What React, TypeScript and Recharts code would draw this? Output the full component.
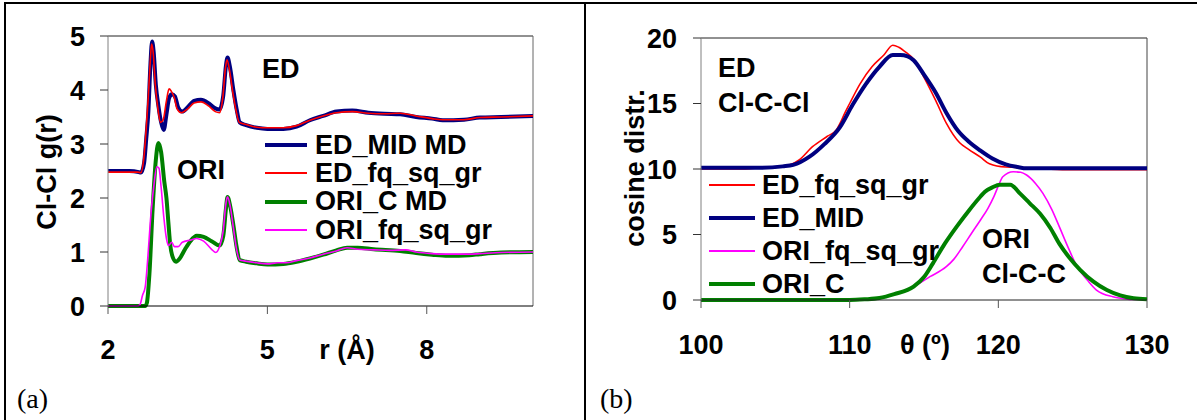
import React from "react";
import { Legend, Line, LineChart, ReferenceLine, XAxis, YAxis } from "recharts";

// (a) Cl-Cl g(r) vs r (Å) as [r, g(r)]
const edMidMd: [number, number][] = [
  [2.0, 2.5], [2.4, 2.5], [2.58, 2.48], [2.62, 2.47], [2.68, 2.65], [2.72, 3.1],
  [2.76, 3.6], [2.8, 4.5], [2.83, 4.9], [2.86, 4.7], [2.9, 4.1], [2.95, 3.7],
  [3.0, 3.4], [3.05, 3.26], [3.1, 3.55], [3.15, 3.85], [3.2, 3.92], [3.26, 3.88],
  [3.32, 3.68], [3.4, 3.6], [3.5, 3.68], [3.62, 3.8], [3.75, 3.82], [3.9, 3.75],
  [4.02, 3.66], [4.1, 3.64], [4.17, 3.9], [4.22, 4.45], [4.25, 4.6], [4.3, 4.4],
  [4.36, 4.0], [4.42, 3.65], [4.48, 3.4], [4.6, 3.35], [4.8, 3.3], [5.0, 3.28],
  [5.3, 3.28], [5.55, 3.32], [5.8, 3.44], [6.05, 3.52], [6.3, 3.6], [6.6, 3.62],
  [6.9, 3.58], [7.2, 3.56], [7.5, 3.55], [7.8, 3.5], [8.1, 3.47], [8.3, 3.44],
  [8.7, 3.45], [9.0, 3.49], [9.4, 3.5], [10.0, 3.52],
];
const edFqSqGrA: [number, number][] = [
  [2.0, 2.48], [2.55, 2.48], [2.62, 2.47], [2.67, 2.7], [2.72, 3.3], [2.76, 3.9],
  [2.8, 4.6], [2.82, 4.85], [2.85, 4.7], [2.89, 4.1], [2.94, 3.65], [2.99, 3.4],
  [3.04, 3.45], [3.1, 3.8], [3.15, 4.02], [3.19, 3.98], [3.25, 3.85], [3.3, 3.65],
  [3.38, 3.58], [3.5, 3.65], [3.62, 3.76], [3.75, 3.78], [3.9, 3.7], [4.02, 3.6],
  [4.1, 3.58], [4.16, 3.85], [4.21, 4.4], [4.24, 4.56], [4.29, 4.35], [4.35, 3.95],
  [4.41, 3.62], [4.47, 3.4], [4.6, 3.36], [4.8, 3.31], [5.0, 3.3], [5.3, 3.3],
  [5.55, 3.34], [5.8, 3.44], [6.05, 3.52], [6.3, 3.58], [6.6, 3.6], [6.9, 3.57],
  [7.2, 3.56], [7.5, 3.57], [7.8, 3.52], [8.1, 3.47], [8.3, 3.45], [8.7, 3.45],
  [9.0, 3.49], [9.4, 3.5], [10.0, 3.52],
];
const oriCMd: [number, number][] = [
  [2.0, 0], [2.6, 0], [2.7, 0], [2.73, 0.05], [2.78, 0.6], [2.84, 1.8], [2.9, 2.7],
  [2.95, 3.02], [3.0, 2.85], [3.06, 2.3], [3.1, 2.0], [3.14, 1.5], [3.17, 1.15],
  [3.22, 0.9], [3.28, 0.82], [3.35, 0.88], [3.45, 1.05], [3.55, 1.2], [3.67, 1.3],
  [3.8, 1.28], [3.95, 1.2], [4.1, 1.12], [4.17, 1.3], [4.22, 1.8], [4.25, 2.02],
  [4.3, 1.85], [4.36, 1.5], [4.42, 1.1], [4.48, 0.85], [4.6, 0.82], [4.8, 0.79],
  [5.0, 0.77], [5.3, 0.78], [5.55, 0.82], [5.8, 0.88], [6.05, 0.95], [6.3, 1.03],
  [6.5, 1.08], [6.7, 1.08], [7.0, 1.05], [7.5, 1.02], [7.8, 0.98], [8.1, 0.95],
  [8.4, 0.93], [8.8, 0.94], [9.0, 0.96], [9.4, 0.99], [10.0, 1.0],
];
const oriFqSqGrA: [number, number][] = [
  [2.0, 0], [2.55, 0], [2.6, 0.02], [2.65, 0.2], [2.7, 0.35], [2.75, 0.9], [2.8, 1.6],
  [2.86, 2.2], [2.92, 2.58], [2.96, 2.55], [3.0, 2.2], [3.05, 1.65], [3.1, 1.25],
  [3.14, 1.12], [3.2, 1.18], [3.25, 1.1], [3.32, 1.1], [3.4, 1.18], [3.55, 1.22],
  [3.67, 1.25], [3.8, 1.2], [3.95, 1.05], [4.03, 0.99], [4.1, 1.1], [4.17, 1.4],
  [4.22, 1.9], [4.25, 2.02], [4.3, 1.85], [4.36, 1.45], [4.42, 1.05], [4.48, 0.85],
  [4.6, 0.83], [4.8, 0.8], [5.0, 0.78], [5.2, 0.8], [5.35, 0.8], [5.55, 0.84],
  [5.8, 0.89], [6.05, 0.96], [6.3, 1.02], [6.5, 1.08], [6.7, 1.05], [7.0, 1.04],
  [7.3, 1.03], [7.6, 1.04], [7.8, 1.0], [8.1, 0.97], [8.4, 0.96], [8.8, 0.96],
  [9.0, 0.97], [9.4, 0.99], [10.0, 1.0],
];

// (b) cosine distribution vs angle θ (º)
const edFqSqGrB: [number, number][] = [
  [100, 10.0], [103, 10.0], [104, 10.1], [105.5, 10.2], [106.6, 10.69], [107.5, 11.7],
  [108.5, 12.5], [109.1, 12.98], [109.4, 13.6], [109.6, 14.1], [110.0, 15.0],
  [110.7, 16.5], [111.5, 17.8], [112.3, 18.7], [112.9, 19.45], [113.3, 19.3],
  [113.9, 18.8], [114.3, 18.4], [115.0, 17.0], [115.8, 15.2], [116.5, 13.5],
  [117.4, 12.0], [118.0, 11.5], [118.8, 10.9], [119.4, 10.4], [120.5, 10.15],
  [122, 10.1], [124.6, 9.95], [126, 9.95], [130, 9.95],
];
const edMid: [number, number][] = [
  [100, 10.1], [104, 10.1], [105.5, 10.2], [106.2, 10.31], [107.3, 10.94], [108.3, 11.9],
  [109.35, 13.2], [110.2, 14.9], [111.1, 16.5], [112.0, 17.8], [112.9, 18.7],
  [113.4, 18.7], [113.9, 18.6], [114.3, 18.3], [115.0, 17.2], [115.8, 15.8],
  [116.5, 14.3], [117.3, 12.9], [118.0, 12.1], [118.8, 11.4], [119.6, 10.8],
  [120.5, 10.35], [121.3, 10.15], [121.9, 10.05], [125, 10.05], [130, 10.05],
];
const oriFqSqGrB: [number, number][] = [
  [100, 0], [110, 0], [111, 0.05], [112, 0.15], [113, 0.45], [114.3, 1.02], [115.4, 1.78],
  [116.5, 2.54], [117.0, 3.1], [117.6, 4.07], [118.2, 5.1], [118.8, 6.11], [119.3, 7.0],
  [119.7, 7.89], [120.0, 8.7], [120.3, 9.41], [121.0, 9.79], [121.5, 9.75], [121.9, 9.54],
  [122.5, 8.9], [123.0, 8.14], [123.6, 6.9], [124.1, 5.6], [124.7, 4.0], [125.3, 2.54],
  [126.0, 1.5], [126.6, 0.76], [127.7, 0.25], [128.5, 0.1], [129, 0.05], [130, 0.05],
];
const oriC: [number, number][] = [
  [100, 0], [110, 0], [111, 0.05], [112, 0.15], [113, 0.45], [114.3, 1.02], [115.0, 1.75],
  [115.6, 2.8], [116.4, 4.3], [117.2, 5.6], [118, 6.8], [118.8, 7.9], [119.1, 8.27],
  [119.6, 8.6], [120.1, 8.8], [120.8, 8.8], [121.45, 8.14], [122.1, 7.4], [122.8, 6.6],
  [123.5, 5.5], [124.1, 4.3], [124.8, 3.2], [125.5, 2.3], [126.4, 1.4], [127.3, 0.76],
  [128.2, 0.35], [129.1, 0.13], [130, 0.05],
];

const ticksRA = [2, 5, 8];
const ticksGA = [0, 1, 2, 3, 4, 5];
const ticksThetaB = [100, 110, 120, 130];
const ticksCosB = [0, 5, 10, 15, 20];

const FONT = '"Liberation Sans", Arial, Helvetica, sans-serif';
const tickStyle = { fill: "#000", fontSize: 27, fontWeight: 700, fontFamily: FONT };

const toPts = (arr: [number, number][]) => arr.map(([x, y]) => ({ x, y }));

type Item = { name: string; color: string; width: number };

function legendContent(items: Item[], rowH: number, lineLen: number, gap: number) {
  return () => (
    <div>
      {items.map((it) => (
        <div key={it.name} style={{ display: "flex", alignItems: "center", height: rowH }}>
          <svg width={lineLen} height={10} style={{ display: "block" }}>
            <line x1={0} y1={5} x2={lineLen} y2={5} stroke={it.color} strokeWidth={it.width} />
          </svg>
          <span
            style={{
              marginLeft: gap,
              fontFamily: FONT,
              fontWeight: 700,
              fontSize: 27,
              lineHeight: 1,
              whiteSpace: "nowrap",
              color: "#000",
            }}
          >
            {it.name}
          </span>
        </div>
      ))}
    </div>
  );
}

function Txt(props: {
  x: number;
  y: number;
  children: React.ReactNode;
  center?: boolean;
  rotate?: boolean;
  serif?: boolean;
}) {
  const { x, y, children, center, rotate, serif } = props;
  let transform = "translate(0,-50%)";
  if (center) transform = "translate(-50%,-50%)";
  if (rotate) transform = "translate(-50%,-50%) rotate(-90deg)";
  return (
    <div
      style={{
        position: "absolute",
        left: x,
        top: y,
        transform,
        fontFamily: serif ? '"Liberation Serif", "Times New Roman", serif' : FONT,
        fontWeight: serif ? 400 : 700,
        fontSize: serif ? 28 : 27,
        lineHeight: 1,
        whiteSpace: "nowrap",
        color: "#000",
      }}
    >
      {children}
    </div>
  );
}

const legendA: Item[] = [
  { name: "ED_MID MD", color: "#000080", width: 4 },
  { name: "ED_fq_sq_gr", color: "#ff0000", width: 2 },
  { name: "ORI_C MD", color: "#008000", width: 4 },
  { name: "ORI_fq_sq_gr", color: "#ff00ff", width: 2 },
];
const legendB: Item[] = [
  { name: "ED_fq_sq_gr", color: "#ff0000", width: 2 },
  { name: "ED_MID", color: "#000080", width: 4 },
  { name: "ORI_fq_sq_gr", color: "#ff00ff", width: 2 },
  { name: "ORI_C", color: "#008000", width: 4 },
];

export default function App() {
  return (
    <div
      style={{
        position: "absolute",
        left: 0,
        top: 0,
        width: 1197,
        height: 420,
        background: "#fff",
        overflow: "hidden",
      }}
    >
      {/* table borders */}
      <div style={{ position: "absolute", left: 4, top: 2, width: 1193, height: 2, background: "#000" }} />
      <div style={{ position: "absolute", left: 4, top: 2, width: 2, height: 418, background: "#000" }} />
      <div style={{ position: "absolute", left: 584, top: 2, width: 2, height: 418, background: "#000" }} />

      {/* panel (a) */}
      <div style={{ position: "absolute", left: 0, top: 0 }}>
        <LineChart width={585} height={420} margin={{ top: 36, right: 52, bottom: 44, left: 0 }}>
          <XAxis
            dataKey="x"
            type="number"
            domain={[2, 10]}
            ticks={ticksRA}
            interval={0}
            allowDataOverflow
            height={70}
            tickSize={8}
            tickMargin={26}
            tick={tickStyle}
            axisLine={{ stroke: "#000" }}
            tickLine={{ stroke: "#555" }}
          />
          <YAxis
            type="number"
            domain={[0, 5]}
            ticks={ticksGA}
            interval={0}
            width={108}
            tickSize={8}
            tickMargin={15}
            tick={tickStyle}
            axisLine={{ stroke: "#808080" }}
            tickLine={{ stroke: "#333" }}
          />
          <ReferenceLine y={5} stroke="#222" />
          <ReferenceLine x={10} stroke="#666" />
          <Line data={toPts(edMidMd)} dataKey="y" name="ED_MID MD" type="monotone" stroke="#000080" strokeWidth={4} dot={false} isAnimationActive={false} />
          <Line data={toPts(edFqSqGrA)} dataKey="y" name="ED_fq_sq_gr" type="monotone" stroke="#ff0000" strokeWidth={1.6} dot={false} isAnimationActive={false} />
          <Line data={toPts(oriCMd)} dataKey="y" name="ORI_C MD" type="monotone" stroke="#008000" strokeWidth={4} dot={false} isAnimationActive={false} />
          <Line data={toPts(oriFqSqGrA)} dataKey="y" name="ORI_fq_sq_gr" type="monotone" stroke="#ff00ff" strokeWidth={1.6} dot={false} isAnimationActive={false} />
          <Legend
            layout="vertical"
            align="center"
            verticalAlign="middle"
            wrapperStyle={{ left: 265, top: 131, width: "auto" }}
            content={legendContent(legendA, 28.3, 42, 8)}
          />
        </LineChart>
      </div>

      {/* panel (b) */}
      <div style={{ position: "absolute", left: 587, top: 0 }}>
        <LineChart width={610} height={420} margin={{ top: 38, right: 50, bottom: 50, left: 0 }}>
          <XAxis
            dataKey="x"
            type="number"
            domain={[100, 130]}
            ticks={ticksThetaB}
            interval={0}
            allowDataOverflow
            height={70}
            tickSize={8}
            tickMargin={27}
            tick={tickStyle}
            axisLine={{ stroke: "#222" }}
            tickLine={{ stroke: "#555" }}
          />
          <YAxis
            type="number"
            domain={[0, 20]}
            ticks={ticksCosB}
            interval={0}
            width={114}
            tickSize={8}
            tickMargin={16}
            tick={tickStyle}
            axisLine={{ stroke: "#808080" }}
            tickLine={{ stroke: "#333" }}
          />
          <ReferenceLine y={20} stroke="#222" />
          <ReferenceLine x={130} stroke="#444" />
          <Line data={toPts(edFqSqGrB)} dataKey="y" name="ED_fq_sq_gr" type="monotone" stroke="#ff0000" strokeWidth={1.6} dot={false} isAnimationActive={false} />
          <Line data={toPts(edMid)} dataKey="y" name="ED_MID" type="monotone" stroke="#000080" strokeWidth={4} dot={false} isAnimationActive={false} />
          <Line data={toPts(oriFqSqGrB)} dataKey="y" name="ORI_fq_sq_gr" type="monotone" stroke="#ff00ff" strokeWidth={1.6} dot={false} isAnimationActive={false} />
          <Line data={toPts(oriC)} dataKey="y" name="ORI_C" type="monotone" stroke="#008000" strokeWidth={4} dot={false} isAnimationActive={false} />
          <Legend
            layout="vertical"
            align="center"
            verticalAlign="middle"
            wrapperStyle={{ left: 122, top: 168.5, width: "auto" }}
            content={legendContent(legendB, 33, 46, 7)}
          />
        </LineChart>
      </div>

      {/* texts, panel (a) */}
      <Txt x={47} y={172} rotate>Cl-Cl g(r)</Txt>
      <Txt x={347} y={350} center>r (Å)</Txt>
      <Txt x={262} y={69}>ED</Txt>
      <Txt x={177} y={170}>ORI</Txt>
      <Txt x={17} y={382} serif>
        <span style={{ position: "relative", top: 17 }}>(a)</span>
      </Txt>

      {/* texts, panel (b) */}
      <Txt x={635} y={168} rotate>cosine distr.</Txt>
      <Txt x={925} y={345} center>θ (º)</Txt>
      <Txt x={718} y={68}>ED</Txt>
      <Txt x={718} y={103}>Cl-C-Cl</Txt>
      <Txt x={982} y={239}>ORI</Txt>
      <Txt x={982} y={274}>Cl-C-C</Txt>
      <Txt x={600} y={382} serif>
        <span style={{ position: "relative", top: 17 }}>(b)</span>
      </Txt>
    </div>
  );
}
